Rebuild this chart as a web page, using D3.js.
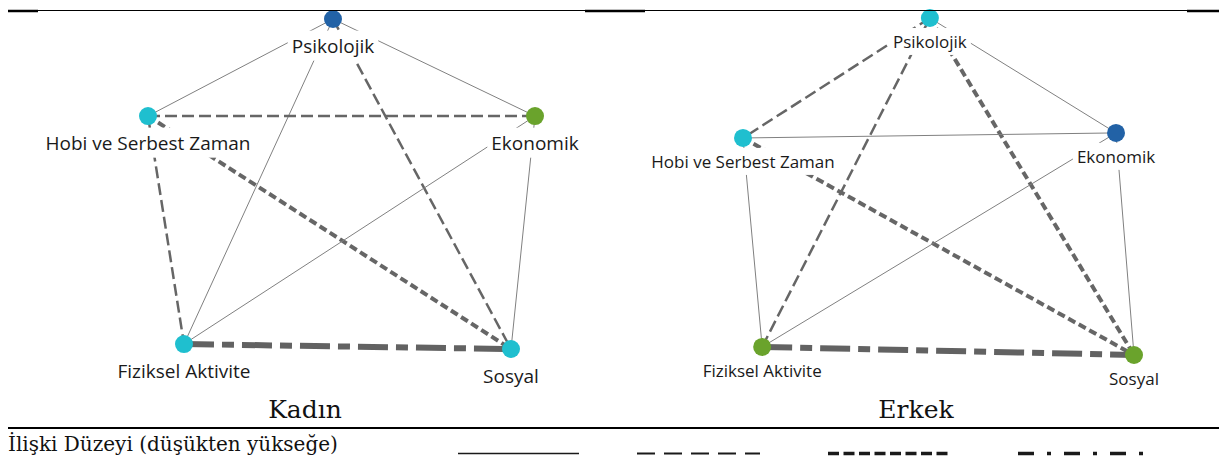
<!DOCTYPE html>
<html>
<head>
<meta charset="utf-8">
<script src="https://cdnjs.cloudflare.com/ajax/libs/d3/7.8.5/d3.min.js"></script>
<style>
  body { margin: 0; background: #fff; }
  svg { display: block; }
</style>
</head>
<body>
<div class="fixed"></div>
<script>
// data
var nodeNames   = ['Psikolojik', 'Hobi ve Serbest Zaman', 'Ekonomik', 'Fiziksel Aktivite', 'Sosyal'];
var panelTitles = ['Kadın', 'Erkek'];
var edgePairs   = [[0,1],[0,2],[0,3],[0,4],[1,2],[1,3],[1,4],[2,3],[2,4],[3,4]];
var levelsKadin = [1, 1, 1, 2, 2, 2, 3, 1, 1, 4];
var levelsErkek = [2, 1, 2, 3, 1, 1, 3, 1, 1, 4];
var groupKadin  = [1, 2, 3, 2, 2];
var groupErkek  = [2, 2, 1, 3, 3];
var legendTitle = 'İlişki Düzeyi (düşükten yükseğe)';
var levels      = [1, 2, 3, 4];

// layout of the nodes (0-100 units inside each panel)
var layoutKadin = [[47.8, 0], [0, 29.4], [100, 29.4], [9.3, 98.5], [93.8, 100]];
var layoutErkek = [[47.8, 0], [0, 35.6], [95.4, 34.1], [4.9, 97.6], [100, 100]];

var chart_width  = 1219;
var chart_height = 459;

var svg = d3.select(".fixed")
    .append("svg")
    .attr("width", chart_width)
    .attr("height", chart_height);

var color = d3.scaleOrdinal()
    .domain([1, 2, 3])
    .range(['#2262a6', '#1fbfcf', '#6aa32c']);

// edge styles per level
var edgeStyle = {
    1: { w: 1,   c: '#808080', dash: null },
    2: { w: 2.5, c: '#666666', dash: '12,5' },
    3: { w: 4,   c: '#666666', dash: '8,4' },
    4: { w: 6,   c: '#626262', dash: '30,8,12,8' }
};

var panels = [
    { title: panelTitles[0], levels: levelsKadin, groups: groupKadin, layout: layoutKadin,
      xr: [148, 535], yr: [19, 349], font: 19, labelDy: 27, titleX: 305 },
    { title: panelTitles[1], levels: levelsErkek, groups: groupErkek, layout: layoutErkek,
      xr: [743, 1134], yr: [18, 355], font: 17, labelDy: 24, titleX: 916 }
];

panels.forEach(function(p){
    var x_scale = d3.scaleLinear().domain([0, 100]).range(p.xr);
    var y_scale = d3.scaleLinear().domain([0, 100]).range(p.yr);

    var nodes = nodeNames.map(function(name, i){
        return { name: name, group: p.groups[i],
                 x: x_scale(p.layout[i][0]), y: y_scale(p.layout[i][1]) };
    });
    var edges = edgePairs.map(function(e, i){
        return { s: nodes[e[0]], t: nodes[e[1]], level: p.levels[i] };
    });

    var g = svg.append('g');

    // Edges
    g.selectAll('line.edge')
        .data(edges)
        .enter()
        .append('line')
        .attr('class', 'edge')
        .attr('x1', function(d){ return d.s.x; })
        .attr('y1', function(d){ return d.s.y; })
        .attr('x2', function(d){ return d.t.x; })
        .attr('y2', function(d){ return d.t.y; })
        .attr('stroke', function(d){ return edgeStyle[d.level].c; })
        .attr('stroke-width', function(d){ return edgeStyle[d.level].w; })
        .attr('stroke-dasharray', function(d){ return edgeStyle[d.level].dash; });

    // Labels with white background
    var lab = g.selectAll('g.label')
        .data(nodes)
        .enter()
        .append('g')
        .attr('class', 'label')
        .attr('transform', function(d){ return 'translate(' + d.x + ',' + (d.y + p.labelDy) + ')'; });

    lab.append('rect').attr('fill', '#fff');

    lab.append('text')
        .attr('text-anchor', 'middle')
        .attr('dy', '0.35em')
        .style('font-family', "'Open Sans', sans-serif")
        .style('font-size', p.font + 'px')
        .style('fill', '#1a1a1a')
        .text(function(d){ return d.name; });

    lab.each(function(){
        var t = d3.select(this).select('text').node().getBBox();
        d3.select(this).select('rect')
            .attr('x', t.x - 4)
            .attr('y', t.y - 2)
            .attr('width', t.width + 8)
            .attr('height', t.height + 4);
    });

    // Nodes
    g.selectAll('circle')
        .data(nodes)
        .enter()
        .append('circle')
        .attr('cx', function(d){ return d.x; })
        .attr('cy', function(d){ return d.y; })
        .attr('r', 9)
        .attr('fill', function(d){ return color(d.group); });

    // Panel title
    svg.append('text')
        .attr('x', p.titleX)
        .attr('y', 418)
        .attr('text-anchor', 'middle')
        .style('font-family', "'DejaVu Serif', serif")
        .style('font-size', '25px')
        .style('fill', '#111')
        .text(p.title);
});

// Top rule (thin with thick pieces)
svg.append('line')
    .attr('x1', 8).attr('x2', chart_width)
    .attr('y1', 10.5).attr('y2', 10.5)
    .attr('stroke', '#000').attr('stroke-width', 1);

[[8, 38], [585, 645], [1187, 1219]].forEach(function(s){
    svg.append('line')
        .attr('x1', s[0]).attr('x2', s[1])
        .attr('y1', 11).attr('y2', 11)
        .attr('stroke', '#000').attr('stroke-width', 2.5);
});

// Bottom rule
svg.append('line')
    .attr('x1', 8).attr('x2', chart_width)
    .attr('y1', 428).attr('y2', 428)
    .attr('stroke', '#000').attr('stroke-width', 2);

// Legend
svg.append('text')
    .attr('x', 8)
    .attr('y', 451)
    .style('font-family', "'DejaVu Serif', serif")
    .style('font-size', '20px')
    .style('fill', '#111')
    .text(legendTitle);

var legend_x = d3.scaleBand()
    .domain(levels)
    .range([458, 1198]);

var legendStyle = {
    1: { w: 1.5, len: 121, dash: null },
    2: { w: 2,   len: 123, dash: '18,9' },
    3: { w: 3.5, len: 123, dash: '11,4.5' },
    4: { w: 3.5, len: 127, dash: '16,13,4,13' }
};

svg.selectAll('line.legend')
    .data(levels)
    .enter()
    .append('line')
    .attr('class', 'legend')
    .attr('x1', function(d){ return legend_x(d) + (d === 2 ? -6 : 0) + (d === 4 ? 5 : 0); })
    .attr('x2', function(d){ return legend_x(d) + (d === 2 ? -6 : 0) + (d === 4 ? 5 : 0) + legendStyle[d].len; })
    .attr('y1', 453.5)
    .attr('y2', 453.5)
    .attr('stroke', '#1a1a1a')
    .attr('stroke-width', function(d){ return legendStyle[d].w; })
    .attr('stroke-dasharray', function(d){ return legendStyle[d].dash; });
</script>
</body>
</html>
